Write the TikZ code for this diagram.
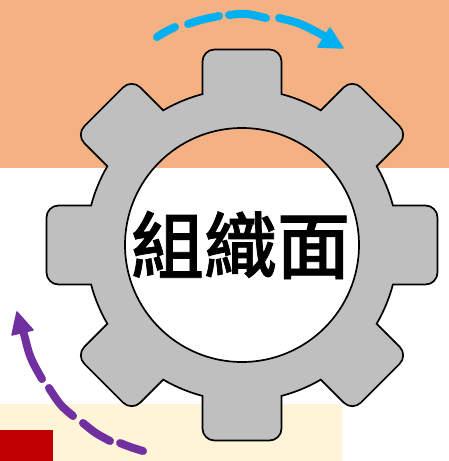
\documentclass[tikz,border=0pt]{standalone}
\usepackage{fontspec}
\newfontfamily\cjkfont[FakeBold=1]{Noto Sans CJK TC Medium}
\definecolor{orangebg}{HTML}{F4B183}
\definecolor{creambg}{HTML}{FFF3D8}
\definecolor{redbox}{HTML}{C00000}
\definecolor{gearfill}{HTML}{BFBFBF}
\definecolor{bluearrow}{HTML}{00B0F0}
\definecolor{purplearrow}{HTML}{7030A0}
\tikzset{
  dashseg/.style={line width=8pt,line cap=round},
  headtip/.style={line width=1.5pt,line join=round},
  gearshape/.style={fill=gearfill,draw=black,line width=1.7pt,even odd rule,line join=miter},
}
\begin{document}
\begin{tikzpicture}[x=1pt,y=-1pt]
\useasboundingbox (0,0) rectangle (449,461);
\fill[orangebg] (0,0) rectangle (449,168);
\fill[creambg] (0,404) rectangle (342,461);
\fill[redbox] (0,430) rectangle (53,461);
% gear
\def\tw{39.5}\def\rr{156}\def\rb{150.9}\def\ro{195.5}\def\ha{14.67}\def\cr{12}\def\kp{5.4}
\begin{scope}[shift={(242,245)},y=1pt]
\path[gearshape] ([rotate=0]\tw,\rb)
  \foreach \a in {0,45,...,315}{
    -- ([rotate=\a]\tw,\ro-\cr)
    .. controls ([rotate=\a]\tw,\ro-\kp) and ([rotate=\a]\tw-\kp,\ro) .. ([rotate=\a]\tw-\cr,\ro)
    -- ([rotate=\a]-\tw+\cr,\ro)
    .. controls ([rotate=\a]-\tw+\kp,\ro) and ([rotate=\a]-\tw,\ro-\kp) .. ([rotate=\a]-\tw,\ro-\cr)
    -- ([rotate=\a]-\tw,\rb)
    arc[start angle=\a+90+\ha,delta angle=45-2*\ha,radius=\rr]
  }
  -- cycle
  (0,0) circle[radius=117];
\end{scope}
\node[font=\cjkfont\fontsize{73}{73}\selectfont,text=black,inner sep=0pt] (label) at (240.5,245) {組織面};
% blue arrow
\draw[dashseg,bluearrow] (157,37) .. controls (163,33) .. (175,27);
\draw[dashseg,bluearrow] (188,24) .. controls (200,20) .. (219,16);
\draw[dashseg,bluearrow] (229,15) .. controls (245,13) .. (266,18);
\draw[dashseg,bluearrow] (279,18) .. controls (300,23) .. (326,37);
\fill[bluearrow,headtip,draw=bluearrow] (343,48) -- (318,47) -- (330,28) -- cycle;
% purple arrow
\draw[dashseg,purplearrow] (24,334) .. controls (30,358) .. (42,379);
\draw[dashseg,purplearrow] (49,388) .. controls (60,405) .. (73,416);
\draw[dashseg,purplearrow] (83,423) .. controls (95,433) .. (110,441);
\draw[dashseg,purplearrow] (120,443) .. controls (130,447) .. (143,451);
\fill[purplearrow,headtip,draw=purplearrow] (17,312) -- (12,335) -- (33,330) -- cycle;
\end{tikzpicture}
\end{document}
